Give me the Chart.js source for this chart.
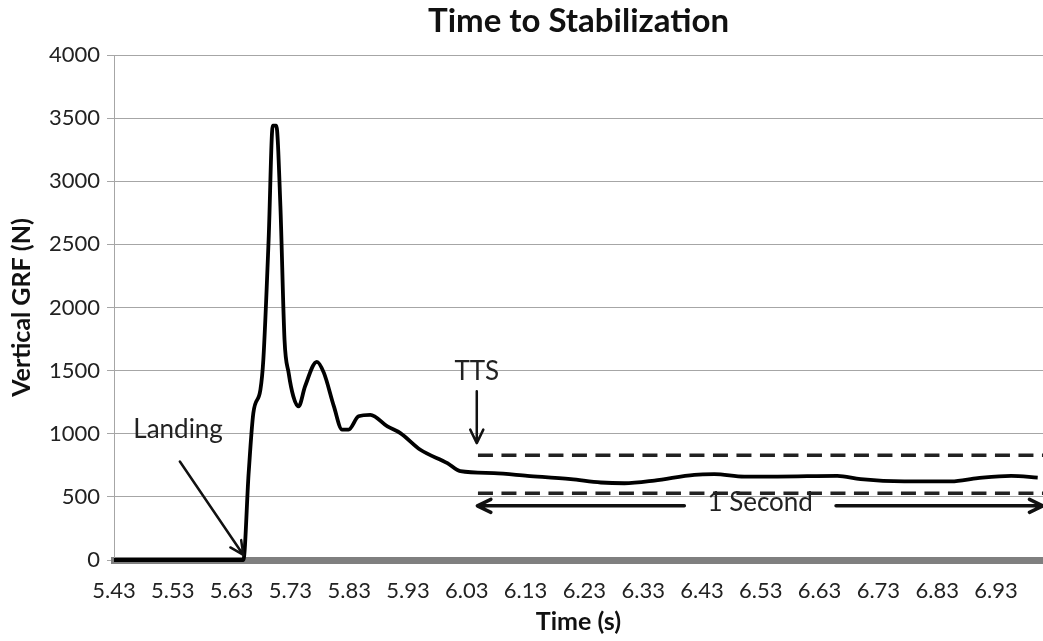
<!DOCTYPE html>
<html>
<head>
<meta charset="utf-8">
<script src="https://cdn.jsdelivr.net/npm/chart.js@4"></script>
<style>
  html, body { margin: 0; padding: 0; background: #fff; }
  #wrap { width: 1043px; height: 641px; }
</style>
</head>
<body>
<div id="wrap"><canvas id="chartcontainer" width="1043" height="641"></canvas></div>
<script>
// force curve
var timeS = [5.43, 5.650, 5.659, 5.667, 5.679, 5.684, 5.693, 5.700, 5.706, 5.713, 5.720, 5.727,
    5.735, 5.744, 5.755, 5.775, 5.787, 5.804, 5.818, 5.829, 5.846, 5.866, 5.895, 5.917,
    5.951, 5.997, 6.019, 6.076, 6.133, 6.207, 6.258, 6.298, 6.349, 6.417, 6.451, 6.502,
    6.558, 6.660, 6.700, 6.774, 6.854, 6.899, 6.956, 7.001];
var grfN = [0, 0, 688, 1164, 1349, 1587, 2540, 3440, 3440, 2804, 1746, 1482,
    1296, 1217, 1376, 1570, 1482, 1217, 1032, 1032, 1138, 1150, 1058, 1005,
    873, 767, 703, 688, 667, 640, 614, 608, 629, 675, 680, 661,
    661, 667, 640, 622, 622, 648, 667, 653];

var xTickLabels = ["5.43", "5.53", "5.63", "5.73", "5.83", "5.93", "6.03", "6.13",
    "6.23", "6.33", "6.43", "6.53", "6.63", "6.73", "6.83", "6.93"];
var xMin = 5.43, xMax = 7.01;
var yTicks = [0, 500, 1000, 1500, 2000, 2500, 3000, 3500, 4000];

// stabilization band
var ttsTime = 6.049;
var bandUpper = [829, 829];
var bandLower = [529, 529];
var bandTime = [ttsTime, xMax];

// annotations, in data units
var ttsLabel = { text: "TTS", x: 6.047, y: 1492 };
var ttsArrow = { x1: 6.047, y1: 1336, x2: 6.047, y2: 926 };
var landingLabel = { text: "Landing", x: 5.539, y: 1032 };
var landingArrow = { x1: 5.542, y1: 780, x2: 5.650, y2: 40 };
var secondLabel = { text: "1 Second", x: 6.529, y: 455 };
var secondArrowLeft = { x1: 6.400, y1: 429, x2: 6.048, y2: 429 };
var secondArrowRight = { x1: 6.658, y1: 429, x2: 7.010, y2: 429 };

var FONT = "Lato, 'Open Sans', sans-serif";

function drawArrow(ctx, xs, ys, a) {
    var x1 = xs.getPixelForValue(a.x1), y1 = ys.getPixelForValue(a.y1);
    var x2 = xs.getPixelForValue(a.x2), y2 = ys.getPixelForValue(a.y2);
    var ang = Math.atan2(y2 - y1, x2 - x1);
    var head = 15, spread = 0.45;
    ctx.beginPath();
    ctx.moveTo(x1, y1);
    ctx.lineTo(x2, y2);
    ctx.moveTo(x2 - head * Math.cos(ang - spread), y2 - head * Math.sin(ang - spread));
    ctx.lineTo(x2, y2);
    ctx.lineTo(x2 - head * Math.cos(ang + spread), y2 - head * Math.sin(ang + spread));
    ctx.stroke();
}

var annotations = {
    id: "annotations",
    afterDatasetsDraw: function (chart) {
        var ctx = chart.ctx, xs = chart.scales.x, ys = chart.scales.y;
        ctx.save();
        ctx.strokeStyle = "#111";
        ctx.fillStyle = "#222";
        ctx.lineCap = "round";
        ctx.lineJoin = "round";
        ctx.lineWidth = 2.5;
        drawArrow(ctx, xs, ys, ttsArrow);
        drawArrow(ctx, xs, ys, landingArrow);
        ctx.lineWidth = 3.5;
        drawArrow(ctx, xs, ys, secondArrowLeft);
        drawArrow(ctx, xs, ys, secondArrowRight);
        ctx.font = "26px " + FONT;
        ctx.textAlign = "center";
        ctx.textBaseline = "middle";
        [ttsLabel, landingLabel, secondLabel].forEach(function (t) {
            ctx.fillText(t.text, xs.getPixelForValue(t.x), ys.getPixelForValue(t.y));
        });
        ctx.restore();
    }
};

var options = {
    type: "scatter",
    data: {
        datasets: [
            {
                label: "Upper limit",
                data: bandTime.map(function (t, i) { return { x: t, y: bandUpper[i] }; }),
                borderColor: "#222",
                borderWidth: 3.5,
                borderDash: [15, 8.5],
                pointRadius: 0,
                showLine: true,
            },
            {
                label: "Lower limit",
                data: bandTime.map(function (t, i) { return { x: t, y: bandLower[i] }; }),
                borderColor: "#222",
                borderWidth: 3.5,
                borderDash: [15, 8.5],
                pointRadius: 0,
                showLine: true,
            },
            {
                label: "Vertical GRF",
                data: timeS.map(function (t, i) { return { x: t, y: grfN[i] }; }),
                borderColor: "#000",
                borderWidth: 3.8,
                borderJoinStyle: "round",
                cubicInterpolationMode: "monotone",
                pointRadius: 0,
                showLine: true,
                clip: false,
            },
        ],
    },
    options: {
        responsive: false,
        animation: false,
        layout: { padding: 0 },
        scales: {
            x: {
                type: "linear",
                min: xMin,
                max: xMax,
                afterBuildTicks: function (scale) {
                    scale.ticks = xTickLabels.map(function (l) { return { value: parseFloat(l) }; });
                },
                afterFit: function (scale) { scale.height = 81; },
                grid: { display: false, drawTicks: false },
                border: { display: true, color: "#7f7f7f", width: 7 },
                ticks: {
                    padding: 18,
                    maxRotation: 0,
                    autoSkip: false,
                    color: "#222",
                    font: { family: FONT, size: 22 },
                    callback: function (v, i) { return xTickLabels[i]; },
                },
                title: {
                    display: true,
                    text: "Time (s)",
                    color: "#111",
                    font: { family: FONT, size: 25, weight: "bold" },
                    padding: { top: 0, bottom: 4 },
                },
            },
            y: {
                min: 0,
                max: 4000,
                afterBuildTicks: function (scale) {
                    scale.ticks = yTicks.map(function (v) { return { value: v }; });
                },
                afterFit: function (scale) { scale.width = 114; },
                grid: { color: "#a6a6a6", lineWidth: 1, tickLength: 7 },
                border: { display: true, color: "#a6a6a6", width: 1 },
                ticks: {
                    padding: 7,
                    color: "#222",
                    font: { family: FONT, size: 22 },
                    callback: function (v) { return String(v); },
                },
                title: {
                    display: true,
                    text: "Vertical GRF (N)",
                    color: "#111",
                    font: { family: FONT, size: 25, weight: "bold" },
                    padding: { top: 7, bottom: 0 },
                },
            },
        },
        plugins: {
            legend: { display: false },
            tooltip: { enabled: false },
            title: {
                display: true,
                fullSize: false,
                text: "Time to Stabilization",
                color: "#111",
                font: { family: FONT, size: 33, weight: "bold" },
                padding: { top: 2, bottom: 13.4 },
            },
        },
    },
    plugins: [annotations],
};
const ctx = document.getElementById("chartcontainer").getContext("2d");
const chart = new Chart(ctx, options);
</script>
</body>
</html>
